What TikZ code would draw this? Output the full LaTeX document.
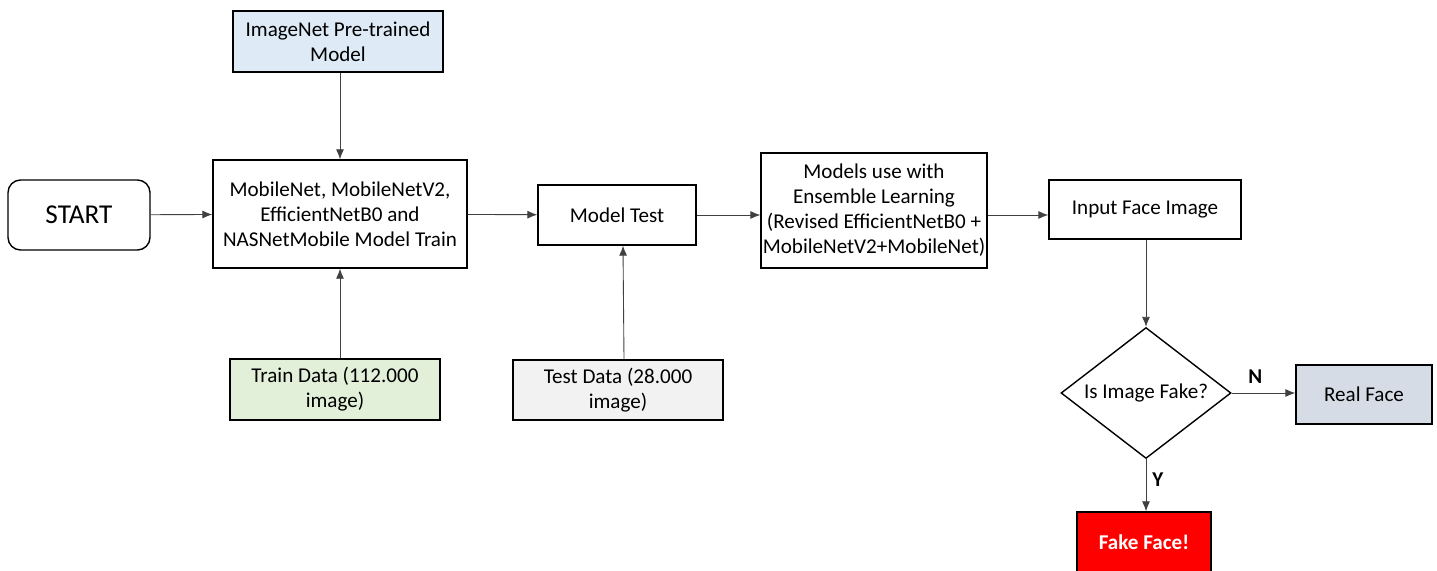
\documentclass[tikz,border=0pt]{standalone}
\usepackage{fontspec}
\setmainfont{Carlito}
\usetikzlibrary{arrows.meta, shapes.geometric, positioning}
\definecolor{paleblue}{HTML}{DEEBF7}
\definecolor{palegreen}{HTML}{E2F0D9}
\definecolor{palegray}{HTML}{F2F2F2}
\definecolor{slategray}{HTML}{D6DCE5}

\begin{document}
\begin{tikzpicture}[x=0.02cm, y=-0.02cm, >={Latex[length=2mm, width=1.6mm]},
  box/.style={draw=black, line width=0.8pt, align=center, inner sep=1pt,
              font=\fontsize{12}{14.2}\selectfont},
  flow/.style={->, draw=black!75, line width=0.5pt},
  yn/.style={font=\fontsize{12}{14}\selectfont\bfseries}]
      \useasboundingbox (0,0) rectangle (1437,571);
      % Top row
      \node[box, rounded corners=2.5mm, minimum width=2.84cm, minimum height=1.4cm,
            font=\fontsize{15.5}{18}\selectfont] (start) at (79,215) {START};
      \node[box, fill=paleblue, minimum width=4.2cm, minimum height=1.22cm]
        (imagenet) at (338,41.5) {ImageNet Pre-trained\\Model};
      \node[box, minimum width=5.08cm, minimum height=2.16cm] (train) at (340,214)
        {MobileNet, MobileNetV2,\\EfficientNetB0 and\\NASNetMobile Model Train};
      \node[box, minimum width=3.16cm, minimum height=1.2cm] (test) at (617,215) {Model Test};
      \node[box, minimum width=4.48cm, minimum height=2.3cm] (ensemble) at (874,210.5)
        {Models use with\\Ensemble Learning\\(Revised EfficientNetB0 +\\MobileNetV2+MobileNet)};
      \node[box, minimum width=3.84cm, minimum height=1.18cm] (input) at (1145,209.5)
        {Input Face Image};
      % Data
      \node[box, fill=palegreen, minimum width=4.2cm, minimum height=1.22cm]
        (traindata) at (335,389.5) {Train Data (112.000\\image)};
      \node[box, fill=palegray, minimum width=4.2cm, minimum height=1.2cm]
        (testdata) at (618,390) {Test Data (28.000\\image)};
      % Decision
      \node[diamond, draw=black, line width=0.8pt, aspect=1.3, inner sep=0pt,
            minimum width=3.4cm, minimum height=2.62cm,
            font=\fontsize{12}{14.2}\selectfont] (isfake) at (1146,393) {Is Image Fake?};
      \node[box, fill=slategray, minimum width=2.72cm, minimum height=1.18cm]
        (real) at (1364,394.5) {Real Face};
      \node[box, fill=red, text=white, minimum width=2.68cm, minimum height=1.2cm,
            font=\fontsize{12}{14}\selectfont\bfseries] (fakeface) at (1144,542) {Fake Face!};
      % Arrows
      \draw[flow] (imagenet.south -| train.north) -- (train.north);
      \draw[flow] (train.south |- traindata.north) -- (train.south);
      \draw[flow] ([xshift=0.12cm]testdata.north) -- ([xshift=0.12cm]test.south);
      \draw[flow] (start) -- (train);
      \draw[flow] (train) -- (test);
      \draw[flow] (test.east) -- (test.east -| ensemble.west);
      \draw[flow] (test.east -| ensemble.east) -- (test.east -| input.west);
      \draw[flow] (input.south -| isfake.north) -- (isfake.north);
      \draw[flow] (isfake.east) -- node[yn, above, pos=0.37, yshift=2pt] {N} (isfake.east -| real.west);
      \draw[flow] (isfake.south) -- node[yn, right, pos=0.4] {Y} (isfake.south |- fakeface.north);
\end{tikzpicture}
\end{document}
